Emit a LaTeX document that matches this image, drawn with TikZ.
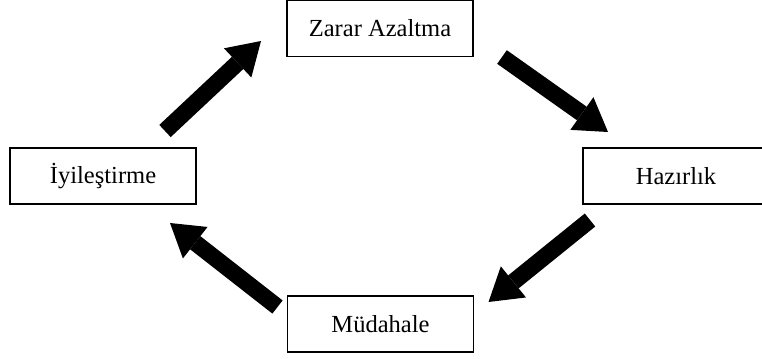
\documentclass[tikz,border=0pt]{standalone}
\usepackage{fontspec}
\setmainfont{Liberation Serif}
\usetikzlibrary{arrows.meta, calc}

\begin{document}
\begin{tikzpicture}[x=0.75pt, y=-0.75pt,
    phase/.style={rectangle, draw, line width=1.1pt, minimum width=139.5pt, minimum height=42pt, inner sep=0pt, outer sep=0pt, font=\fontsize{18.4}{20}\selectfont},
    cycle/.style={draw, line width=12.5pt, -{Triangle[length=24pt, width=30pt, line width=0pt]}}
]
    \useasboundingbox (0,0) rectangle (762,358);

    % Phases
    \node [phase] (zarar) at (380,28.5) {Zarar Azaltma};
    \node [phase] (hazirlik) at (676,176) {Hazırlık};
    \node [phase] (mudahale) at (380.5,324) {Müdahale};
    \node [phase] (iyi) at (103,176) {İyileştirme};

    % Cycle arrows
    \path [cycle] ($(iyi.north east)+(-31,-17)$) -- ($(zarar.west)+(-26,12.5)$);
    \path [cycle] ($(zarar.east)+(29,28.5)$) -- ($(hazirlik.north west)+(25,-16)$);
    \path [cycle] ($(hazirlik.south west)+(7,16)$) -- ($(mudahale.east)+(15,-22)$);
    \path [cycle] ($(mudahale.west)+(-10,-17)$) -- ($(iyi.south east)+(-26,19)$);
\end{tikzpicture}
\end{document}
